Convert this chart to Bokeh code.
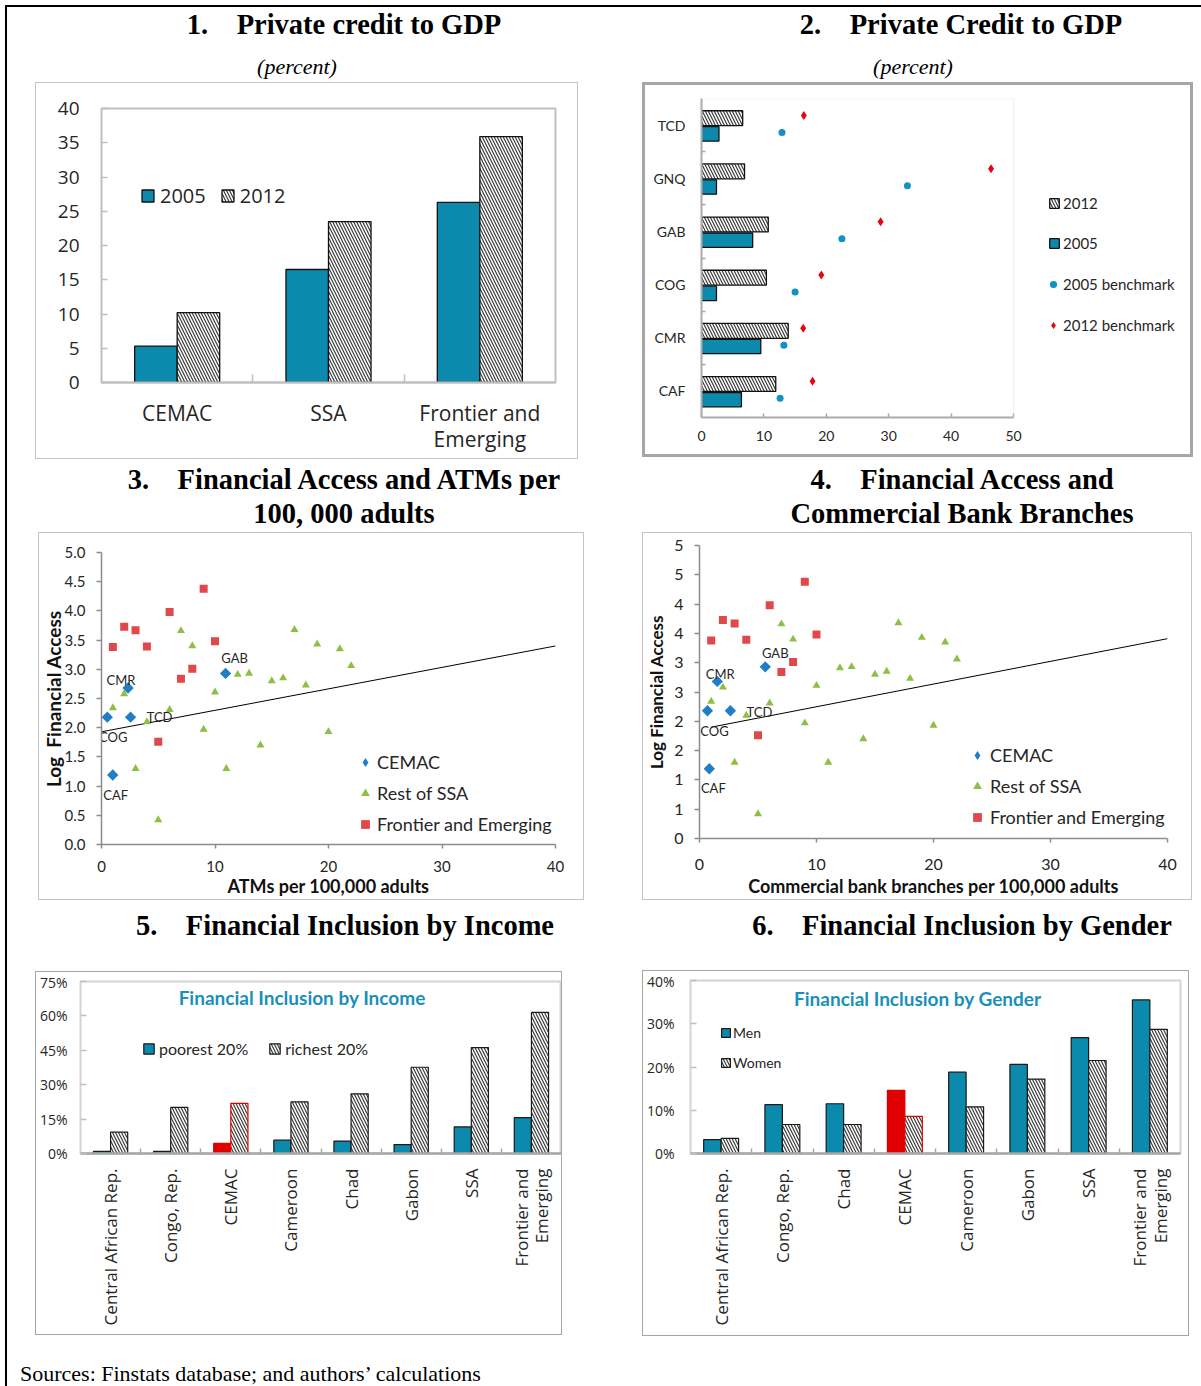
import numpy as np
from bokeh.plotting import figure
from bokeh.models import (Range1d, FixedTicker, Legend, LegendItem, Label, Div, BoxAnnotation,
                          ColumnDataSource, NumeralTickFormatter, CustomJSTickFormatter)
from bokeh.embed import file_html
from bokeh.resources import INLINE
from bokeh.core.properties import value

# ---------------- data ----------------
# 1. Private credit to GDP (percent)
p1_groups = ["CEMAC", "SSA", "Frontier and\nEmerging"]
p1_2005 = [5.3, 16.5, 26.3]
p1_2012 = [10.2, 23.5, 35.9]

# 2. Private credit to GDP by country (percent)
p2_countries = ["CAF", "CMR", "COG", "GAB", "GNQ", "TCD"]
p2_2005 = [6.4, 9.5, 2.4, 8.2, 2.4, 2.8]
p2_2012 = [11.9, 13.9, 10.4, 10.7, 6.9, 6.6]
p2_bench_2005 = [12.6, 13.2, 15.0, 22.5, 33.0, 12.9]
p2_bench_2012 = [17.8, 16.3, 19.2, 28.7, 46.4, 16.4]
p2_axis_max = 50

# 3./4. Financial access scatter
cemac_codes = ["CMR", "COG", "TCD", "GAB", "CAF"]
cemac_access = [2.68, 2.18, 2.18, 2.93, 1.19]
cemac_atms = [2.34, 0.51, 2.56, 10.93, 0.99]
cemac_branches = [1.52, 0.68, 2.64, 5.62, 0.84]
ssa_atms = [1, 2, 3, 4, 5, 6, 7, 8, 9, 10, 11, 12, 13, 14, 15, 16, 17, 18, 19, 20, 21, 22]
ssa_branches = [1, 2, 3, 4, 5, 6, 7, 8, 9, 10, 11, 12, 13, 14, 15, 16, 17, 18, 19, 20, 21, 22]
ssa_access = [2.34, 2.58, 1.30, 2.10, 0.42, 2.31, 3.66, 3.40, 1.97, 2.61, 1.30,
              2.91, 2.93, 1.70, 2.80, 2.85, 3.68, 2.73, 3.43, 1.93, 3.35, 3.06]
fe_atms = [1, 2, 3, 4, 5, 6, 7, 8, 9, 10]
fe_branches = [1, 2, 3, 4, 5, 6, 7, 8, 9, 10]
fe_access = [3.38, 3.73, 3.67, 3.39, 1.76, 3.98, 2.84, 3.01, 4.38, 3.48]
trend3_x = [0, 40]
trend3_y = [1.93, 3.40]
trend4_x = [1, 40]
trend4_y = [1.90, 3.41]

# 5. Financial inclusion by income (share)
p5_countries = ["Central African Rep.", "Congo, Rep.", "CEMAC", "Cameroon", "Chad",
                "Gabon", "SSA", "Frontier and\nEmerging"]
p5_poorest = [0.009, 0.009, 0.044, 0.058, 0.054, 0.039, 0.116, 0.156]
p5_richest = [0.093, 0.201, 0.219, 0.225, 0.260, 0.376, 0.462, 0.615]

# 6. Financial inclusion by gender (share)
p6_countries = ["Central African Rep.", "Congo, Rep.", "Chad", "CEMAC", "Cameroon",
                "Gabon", "SSA", "Frontier and\nEmerging"]
p6_men = [0.032, 0.113, 0.115, 0.146, 0.188, 0.206, 0.268, 0.355]
p6_women = [0.035, 0.067, 0.067, 0.086, 0.108, 0.172, 0.215, 0.287]

# ---------------- styles ----------------
TEAL = "#0B8AAD"
HATCH = "#3a3a3a"
RED = "#E00000"
BLUE = "#1F7EC5"
GREEN = "#8DBE45"
RED_SQ = "#E0494B"
TEAL_DOT = "#1192BF"
RED_DOT = "#E30613"
TITLE_TEAL = "#1A8FB8"
TXT = "#262626"
SEGOE = "Open Sans"
CALIBRI = "Lato"


def panel(left, top, w, h, xr, yr, borders, outline):
    """Figure whose gray box (CSS outline) spans left..left+w, top..top+h on the page."""
    ow, oc = outline
    ins = int(np.ceil(ow))
    p = figure(width=w - 2 * ins, height=h - 2 * ins, x_range=xr, y_range=yr,
               output_backend="svg", toolbar_location=None, margin=0,
               min_border_left=borders[0] - ins, min_border_right=borders[1] - ins,
               min_border_top=borders[2] - ins, min_border_bottom=borders[3] - ins,
               background_fill_color="white", border_fill_color="white",
               outline_line_color=None,
               styles={"position": "absolute", "left": f"{left + ins}px", "top": f"{top + ins}px",
                       "width": f"{w - 2 * ins}px", "height": f"{h - 2 * ins}px",
                       "outline": f"{ow}px solid {oc}"})
    p.xgrid.visible = False
    p.ygrid.visible = False
    return p


def style_axis(ax, font, size, standoff, line_color="#a6a6a6", line_width=1.5,
               tick_in=0, tick_out=0, minor_in=0, minor_out=0, color=TXT):
    ax.axis_line_color = line_color
    ax.axis_line_width = line_width
    ax.major_tick_in = tick_in
    ax.major_tick_out = tick_out
    ax.major_tick_line_color = line_color
    ax.major_tick_line_width = 1.5
    ax.minor_tick_in = minor_in
    ax.minor_tick_out = minor_out
    ax.minor_tick_line_color = line_color
    ax.minor_tick_line_width = 1.5
    ax.major_label_text_font = font
    ax.major_label_text_font_size = size
    ax.major_label_text_color = color
    ax.major_label_standoff = standoff


def add_legend(p, items, loc, orientation="vertical", font=CALIBRI, size="15px",
               glyph=14, label_h=18, spacing=8, standoff=5):
    leg = Legend(items=[LegendItem(label=lab, renderers=[r]) for lab, r in items],
                 location=loc, orientation=orientation,
                 glyph_width=glyph, glyph_height=glyph, label_height=label_h,
                 label_width=5, spacing=spacing, label_standoff=standoff,
                 padding=0, margin=0, border_line_color=None, background_fill_alpha=0,
                 label_text_font=font, label_text_font_size=size, label_text_color=TXT)
    p.add_layout(leg)
    return leg


hatch_kw = dict(fill_color="white", hatch_pattern="\\", hatch_color=HATCH,
                hatch_scale=6, hatch_weight=1.2)

# ---------------- panel 1 ----------------
p1 = panel(34, 81, 545, 379, Range1d(-0.5, 2.5), Range1d(0, 40), (67, 24, 27, 78), (1.5, "#c4c4c4"))
x1 = np.arange(len(p1_groups))
r1a = p1.vbar(x=x1 - 0.1405, top=p1_2005, width=0.281, fill_color=TEAL,
              line_color="#111111", line_width=1.3)
r1b = p1.vbar(x=x1 + 0.1405, top=p1_2012, width=0.281, line_color="#111111",
              line_width=1.3, **hatch_kw)
p1.outline_line_color = "#bfbfbf"
p1.outline_line_width = 2
xa = p1.xaxis[0]
xa.ticker = FixedTicker(ticks=[int(i) for i in x1], minor_ticks=[float(i) + 0.5 for i in x1[:-1]])
xa.major_label_overrides = {int(i): g for i, g in zip(x1, p1_groups)}
style_axis(xa, SEGOE, "21px", 16, line_color="#bfbfbf", line_width=2, minor_in=8)
xa.major_label_text_line_height = 0.93
ya = p1.yaxis[0]
ya.ticker = FixedTicker(ticks=list(range(0, 41, 5)))
style_axis(ya, SEGOE, "19px", 22, line_color=None, tick_in=6)
ya.major_tick_line_color = "#bfbfbf"
add_legend(p1, [("2005", r1a), ("2012", r1b)], (39, 173), orientation="horizontal",
           font=SEGOE, size="20px", glyph=15, label_h=22, spacing=14, standoff=5)

# ---------------- panel 2 ----------------
# the frame is widened to the right so the legend can sit beside the data area;
# the axis is bounded to 0..p2_axis_max and the light box marks the data area
P2_DATA_W = 312          # pixel width of the 0..50 data area
P2_FRAME_W = 551 - 59 - 8
p2 = panel(642, 82, 551, 375, Range1d(0, p2_axis_max * P2_FRAME_W / P2_DATA_W),
           Range1d(-0.5, len(p2_countries) - 0.5), (59, 8, 16, 40), (3, "#a6a6a6"))
y2 = np.arange(len(p2_countries))
r2a = p2.hbar(y=y2 + 0.13, right=p2_2012, left=0, height=0.28, line_color="#111111",
              line_width=1.3, **hatch_kw)
r2b = p2.hbar(y=y2 - 0.165, right=p2_2005, left=0, height=0.27, fill_color=TEAL,
              line_color="#111111", line_width=1.3)
r2c = p2.scatter(x=p2_bench_2005, y=y2 - 0.14, marker="circle", size=7,
                 fill_color=TEAL_DOT, line_color=None)
r2d = p2.scatter(x=p2_bench_2012, y=y2 + 0.18, marker="diamond", size=9,
                 fill_color=RED_DOT, line_color=None)
p2.add_layout(BoxAnnotation(left=0, right=p2_axis_max, bottom=-0.5, top=len(p2_countries) - 0.5,
                            fill_color=None, line_color="#d9d9d9", line_width=1.5))
xa = p2.xaxis[0]
xa.ticker = FixedTicker(ticks=list(range(0, p2_axis_max + 1, 10)))
xa.bounds = (0, p2_axis_max)
style_axis(xa, CALIBRI, "14px", 13, line_color="#a6a6a6", line_width=2, tick_in=4)
ya = p2.yaxis[0]
ya.ticker = FixedTicker(ticks=[int(i) for i in y2], minor_ticks=[float(i) + 0.5 for i in y2[:-1]])
ya.major_label_overrides = {int(i): c for i, c in zip(y2, p2_countries)}
style_axis(ya, CALIBRI, "14px", 16, line_color="#a6a6a6", line_width=2, minor_in=4)
add_legend(p2, [("2012", r2a), ("2005", r2b)], (347, 165), size="15px",
           glyph=12, label_h=18, spacing=22, standoff=3)
add_legend(p2, [("2005 benchmark", r2c), ("2012 benchmark", r2d)], (343, 83), size="15px",
           glyph=18, label_h=18, spacing=23, standoff=1)


# ---------------- panels 3 & 4 ----------------
def scatter_panel(left, top, w, h, borders, cx, sx, fx, tx, ty, offs, xlab, ylab,
                  xlab_size, ylab_size, tick_size, ystand, xstand, xlab_stand, ylab_stand,
                  yfmt, leg_loc, leg_standoff):
    p = panel(left, top, w, h, Range1d(0, 40), Range1d(0, 5), borders, (1.5, "#c4c4c4"))
    p.line(tx, ty, line_color="black", line_width=1)
    rc = p.scatter(cx, cemac_access, marker="square", angle=np.pi / 4, size=8,
                   fill_color=BLUE, line_color=None)
    rs = p.scatter(sx, ssa_access, marker="triangle", size=8, fill_color=GREEN, line_color=None)
    rf = p.scatter(fx, fe_access, marker="square", size=8, fill_color=RED_SQ, line_color=None)
    # hidden diamond twin of the CEMAC series, used only for its legend swatch
    rc_leg = p.scatter(cx, cemac_access, marker="diamond", size=8, fill_color=BLUE,
                       line_color=None, visible=False)
    src = ColumnDataSource(dict(x=cx, y=cemac_access, t=cemac_codes,
                                dx=[o[0] for o in offs], dy=[o[1] for o in offs]))
    p.text(x="x", y="y", text="t", x_offset="dx", y_offset="dy", source=src,
           text_font=value(CALIBRI), text_font_size="13px", text_color=TXT,
           text_align="center", text_baseline="middle")
    xa = p.xaxis[0]
    xa.ticker = FixedTicker(ticks=[0, 10, 20, 30, 40])
    style_axis(xa, CALIBRI, tick_size, xstand, line_color="#8c8c8c", line_width=1.5, tick_out=4)
    xa.axis_label = xlab
    xa.axis_label_text_font = CALIBRI
    xa.axis_label_text_font_style = "bold"
    xa.axis_label_text_font_size = xlab_size
    xa.axis_label_text_color = "#111111"
    xa.axis_label_standoff = xlab_stand
    ya = p.yaxis[0]
    ya.ticker = FixedTicker(ticks=[k * 0.5 for k in range(11)])
    ya.formatter = yfmt
    style_axis(ya, CALIBRI, tick_size, ystand, line_color="#8c8c8c", line_width=1.5, tick_out=5)
    if ylab is not None:
        ya.axis_label = ylab
        ya.axis_label_text_font = CALIBRI
        ya.axis_label_text_font_style = "bold"
        ya.axis_label_text_font_size = ylab_size
        ya.axis_label_text_color = "#111111"
        ya.axis_label_standoff = ylab_stand
    add_legend(p, [("CEMAC", rc_leg), ("Rest of SSA", rs), ("Frontier and Emerging", rf)],
               leg_loc, size="18px", glyph=22, label_h=24, spacing=7, standoff=leg_standoff)
    return p


# panel 3's y title is placed as a rotated text element (see below) so that it can sit
# as close to the tick labels as in the reference without pushing the frame
p3 = scatter_panel(37, 531, 548, 370, (64, 30, 21, 55), cemac_atms, ssa_atms, fe_atms,
                   trend3_x, trend3_y,
                   [(-7, -8), (6, 20), (29, 0), (9, -15), (3, 20)],
                   "ATMs per 100,000 adults", None, "18px", "19px", "15px",
                   11, 12, 0, 0, NumeralTickFormatter(format="0.0"), (253, 8), 1)
p4 = scatter_panel(641, 531, 552, 370, (57, 26, 14, 63), cemac_branches, ssa_branches,
                   fe_branches, trend4_x, trend4_y,
                   [(3, -7), (7, 20), (29, 1), (10, -14), (4, 19)],
                   "Commercial bank branches per 100,000 adults", "Log Financial Access",
                   "18px", "17px", "16px", 11, 16, 2, 4,
                   CustomJSTickFormatter(code="return Math.round(tick).toFixed(0);"), (267, 9), 2)


# ---------------- panels 5 & 6 ----------------
def inclusion_panel(left, top, w, h, borders, outline, cats, a, b, ymax, ystep, labels,
                    title, title_xy, leg_loc, leg_orient, leg_size, leg_glyph, leg_spacing,
                    leg_standoff, ystand):
    p = panel(left, top, w, h, Range1d(-0.5, len(cats) - 0.5), Range1d(0, ymax), borders, outline)
    xs = np.arange(len(cats))
    cem = [c == "CEMAC" for c in cats]
    fill_a = [RED if c else TEAL for c in cem]
    edge_a = [RED if c else "#1a1a1a" for c in cem]
    edge_b = [RED if c else "#1a1a1a" for c in cem]
    ra = p.vbar(x=xs - 0.1425, top=a, width=0.285, fill_color=fill_a, line_color=edge_a,
                line_width=1.2)
    rb = p.vbar(x=xs + 0.1425, top=b, width=0.285, line_color=edge_b, line_width=1.2, **hatch_kw)
    p.outline_line_color = "#d4d4d4"
    p.outline_line_width = 2
    xa = p.xaxis[0]
    xa.ticker = FixedTicker(ticks=[int(i) for i in xs], minor_ticks=[float(i) + 0.5 for i in xs[:-1]])
    xa.major_label_overrides = {int(i): c for i, c in zip(xs, cats)}
    xa.major_label_orientation = np.pi / 2
    style_axis(xa, SEGOE, "17px", 15, line_color="#a6a6a6", line_width=2.5, minor_in=5)
    xa.major_label_text_line_height = 0.9
    ya = p.yaxis[0]
    nt = int(round(ymax / ystep))
    ya.ticker = FixedTicker(ticks=[round(k * ystep, 4) for k in range(nt + 1)])
    ya.formatter = NumeralTickFormatter(format="0%")
    style_axis(ya, SEGOE, "14px", ystand, line_color=None, tick_in=6)
    ya.major_tick_line_color = "#bfbfbf"
    p.add_layout(Label(x=title_xy[0], y=title_xy[1], x_units="screen", y_units="screen",
                       text=title, text_font=CALIBRI, text_font_style="bold",
                       text_font_size="19px", text_color=TITLE_TEAL,
                       text_align="center", text_baseline="middle"))
    add_legend(p, [(labels[0], ra), (labels[1], rb)], leg_loc, orientation=leg_orient,
               size=leg_size, glyph=leg_glyph, label_h=20, spacing=leg_spacing,
               standoff=leg_standoff)
    return p


p5 = inclusion_panel(34, 970, 529, 366, (42, 2, 11, 183), (1.5, "#a6a6a6"), p5_countries,
                     p5_poorest, p5_richest, 0.75, 0.15, ("poorest 20%", "richest 20%"),
                     "Financial Inclusion by Income", (221.7, 156.3), (62, 95), "horizontal",
                     "16px", 13, 20, 4, 13)
p6 = inclusion_panel(641, 969, 549, 368, (47, 10, 11, 184), (1.5, "#a6a6a6"), p6_countries,
                     p6_men, p6_women, 0.40, 0.10, ("Men", "Women"),
                     "Financial Inclusion by Gender", (227.3, 155.3), (30, 81), "vertical",
                     "14px", 11, 10, 2, 16)


# ---------------- titles / text ----------------
def text_div(html, left, top, width, height, css, extra=None):
    st = {"position": "absolute", "left": f"{left}px", "top": f"{top}px", "overflow": "visible"}
    if extra:
        st.update(extra)
    return Div(text=f'<div style="{css}">{html}</div>', width=width, height=height, margin=0,
               styles=st)


TCSS = ("font-family:'Liberation Serif'; font-weight:bold; font-size:28.5px; line-height:34px;"
        " text-align:center; white-space:pre; color:#000; width:{w}px;")
PCSS = ("font-family:'Liberation Serif'; font-style:italic; font-size:22px; line-height:26px;"
        " text-align:center; white-space:pre; color:#000; width:{w}px;")
YCSS = ("font-family:'Lato'; font-weight:bold; font-size:19px; line-height:24px;"
        " text-align:center; white-space:pre; color:#111111; width:{w}px;")

divs = [
    Div(text="", width=1196, height=1381, margin=0,
        styles={"position": "absolute", "left": "5px", "top": "5px",
                "width": "1196px", "height": "1381px",
                "border-left": "2px solid #000", "border-top": "2px solid #000",
                "box-sizing": "border-box"}),
    text_div("1.    Private credit to GDP", 44, 8, 600, 34, TCSS.format(w=600)),
    text_div("(percent)", 197, 54, 200, 26, PCSS.format(w=200)),
    text_div("2.    Private Credit to GDP", 661, 8, 600, 34, TCSS.format(w=600)),
    text_div("(percent)", 813, 54, 200, 26, PCSS.format(w=200)),
    text_div("3.    Financial Access and ATMs per<br>100, 000 adults", 44, 463, 600, 68,
             TCSS.format(w=600)),
    text_div("4.    Financial Access and<br>Commercial Bank Branches", 662, 463, 600, 68,
             TCSS.format(w=600)),
    text_div("5.    Financial Inclusion by Income", 45, 909, 600, 34, TCSS.format(w=600)),
    text_div("6.    Financial Inclusion by Gender", 662, 909, 600, 34, TCSS.format(w=600)),
    Div(text='<div style="font-family:\'Liberation Serif\'; font-size:22px; line-height:25px;'
             ' white-space:pre; color:#000;">Sources: Finstats database; and authors\u2019 calculations</div>',
        width=600, height=25, margin=0,
        styles={"position": "absolute", "left": "20px", "top": "1361px", "overflow": "hidden"}),
]

# rotated y-axis title of panel 3, centred at page (53.5, 699)
p3_ytitle = text_div("Log  Financial Access", 53.5 - 120, 699 - 12, 240, 24, YCSS.format(w=240),
                     extra={"transform": "rotate(-90deg)", "transform-origin": "50% 50%"})

# each element is its own root, absolutely placed on the page (no shared layout alignment)
roots = divs + [p1, p2, p3, p4, p5, p6, p3_ytitle]
open("out.html", "w").write(file_html(roots, INLINE))
